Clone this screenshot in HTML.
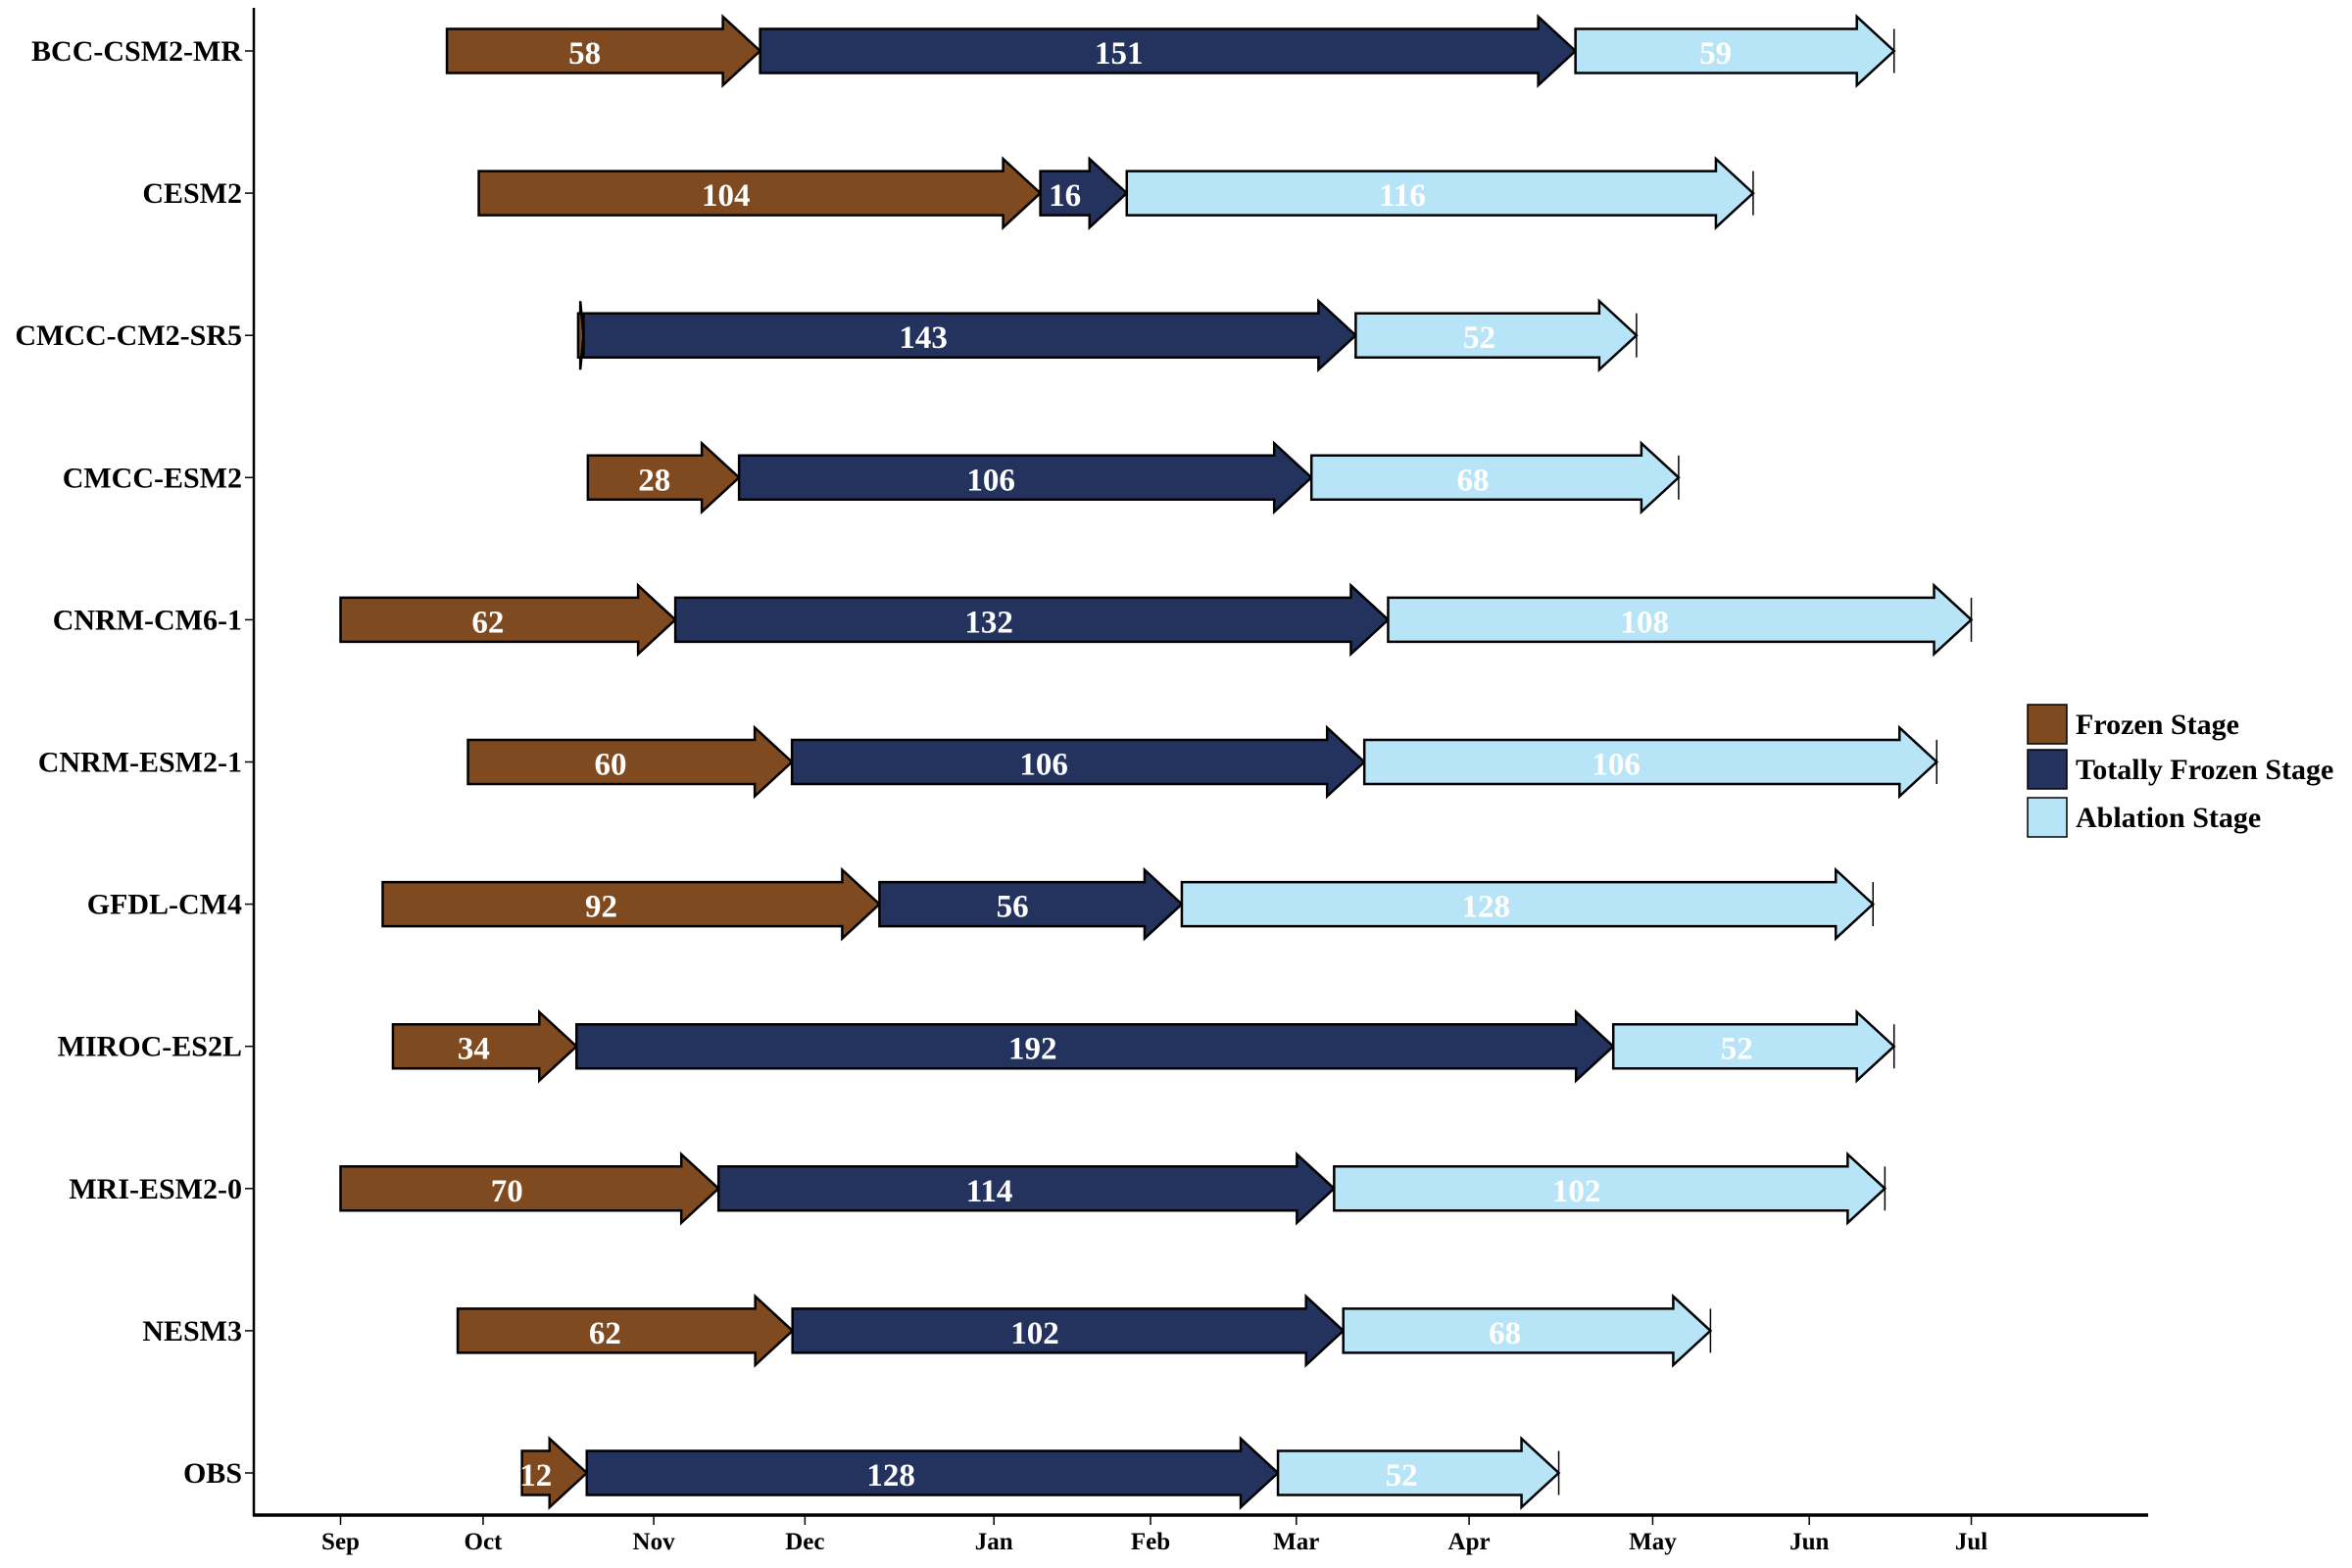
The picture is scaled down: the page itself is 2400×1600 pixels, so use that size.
<!DOCTYPE html>
<html><head><meta charset="utf-8"><style>
html,body{margin:0;padding:0;background:#fff;}
svg{display:block;}
text{font-family:"Liberation Serif",serif;font-weight:bold;}
</style></head><body>
<svg id="chart" width="2400" height="1600" viewBox="0 0 2400 1600">
<g id="axes"></g>
<g id="bars"></g>
<g id="legend"></g>
</svg>
<script>
const models = ["BCC-CSM2-MR","CESM2","CMCC-CM2-SR5","CMCC-ESM2","CNRM-CM6-1","CNRM-ESM2-1","GFDL-CM4","MIROC-ES2L","MRI-ESM2-0","NESM3","OBS"];
const startDays = [19.7,25.6,44,45.8,0,23.6,7.8,9.7,0,21.7,33.6];
const frozenDays = [58,104,1,28,62,60,92,34,70,62,12];
const totallyFrozenDays = [151,16,143,106,132,106,56,192,114,102,128];
const ablationDays = [59,116,52,68,108,106,128,52,102,68,52];
const monthLabels = ["Sep","Oct","Nov","Dec","Jan","Feb","Mar","Apr","May","Jun","Jul"];
const monthTickDays = [0,26.4,58,86,121,150,177,209,243,272,302];

const NS="http://www.w3.org/2000/svg";
const X0=347.5, PXD=5.51;
const xs = d => X0 + d*PXD;
const ROW0=52, ROWS=145.1;
const ys = i => ROW0 + i*ROWS;
const BODY=45, HEAD=70, HL=38;
function mk(tag, attrs, parent){const e=document.createElementNS(NS,tag);for(const k in attrs)e.setAttribute(k,attrs[k]);parent.appendChild(e);return e;}
const axes=document.getElementById('axes'), bars=document.getElementById('bars'), legend=document.getElementById('legend');

const yAxis=mk('line',{x1:259,y1:8,x2:259,y2:1547,stroke:'#000','stroke-width':2.5},axes);


const xAxis=mk('line',{x1:258,y1:1546,x2:2192,y2:1546,stroke:'#000','stroke-width':3.5},axes);



monthTickDays.forEach((d,i)=>{
  const x=xs(d);
  const t=mk('line',{x1:x,y1:1546,x2:x,y2:1556,stroke:'#000','stroke-width':1.5},axes);
  
  
  const l=mk('text',{x:x,y:1581,'text-anchor':'middle','font-size':25,fill:'#000'},axes);
  l.textContent=monthLabels[i];
  
  
});

const colors=["#7f4a1f","#24325e","#b8e4f8"];
const series=[frozenDays,totallyFrozenDays,ablationDays];
const segNames=["frozen-stage-arrow","totally-frozen-arrow","ablation-arrow"];

models.forEach((m,i)=>{
  const y=ys(i);
  const tk=mk('line',{x1:250,y1:y,x2:259,y2:y,stroke:'#000','stroke-width':1.5},axes);
  
  
  const lab=mk('text',{x:247,y:y+10,'text-anchor':'end','font-size':30,fill:'#000'},axes);
  lab.textContent=m;
  
  
  let d=startDays[i];
  series.forEach((s,k)=>{
    const v=s[i];
    const x1=xs(d), x2=xs(d+v);
    const hl=Math.min(HL,(x2-x1)*0.6);
    const xb=x2-hl;
    const pts=[[x1,y-BODY/2],[xb,y-BODY/2],[xb,y-HEAD/2],[x2,y],[xb,y+HEAD/2],[xb,y+BODY/2],[x1,y+BODY/2]].map(p=>p.join(',')).join(' ');
    const p=mk('polygon',{points:pts,fill:colors[k],stroke:'#000','stroke-width':2.5,'stroke-linejoin':'miter'},bars);
    
    
    if(v>=5){
      const cx = v<20 ? (x1+xb)/2 : xs(d+v*0.44);
      const t=mk('text',{x:cx,y:y+13,'text-anchor':'middle','font-size':33,fill:'#fff'},bars);
      t.textContent=v;
      
      
    }
    if(k===2){
      const el=mk('line',{x1:x2,y1:y-BODY/2,x2:x2,y2:y+BODY/2,stroke:'#000','stroke-width':1.5},bars);
      
      
    }
    d+=v;
  });
});

const legNames=["Frozen Stage","Totally Frozen Stage","Ablation Stage"];
const legY=[719,765,814];
legNames.forEach((n,k)=>{
  const g=mk('g',{},legend);
  
  
  mk('rect',{x:2069,y:legY[k],width:40,height:40,fill:colors[k],stroke:'#000','stroke-width':1.5},g);
  const t=mk('text',{x:2118,y:legY[k]+30,'font-size':30,fill:'#000'},g);
  t.textContent=n;
});
</script>
</body></html>
